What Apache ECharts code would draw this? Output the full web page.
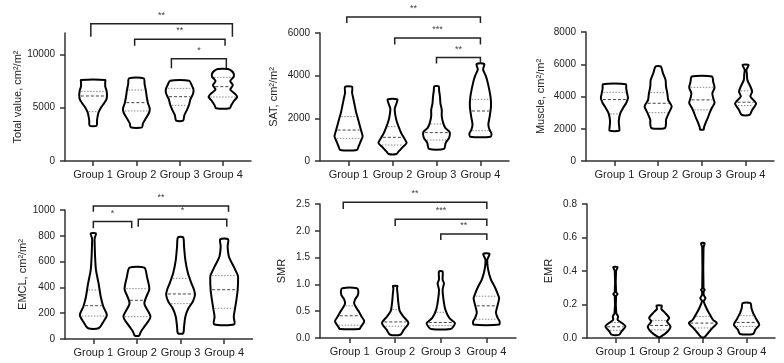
<!DOCTYPE html>
<html><head><meta charset="utf-8">
<script src="https://cdn.jsdelivr.net/npm/echarts@6/dist/echarts.min.js"></script>
<style>html,body{margin:0;padding:0;background:#fff}#c{width:784px;height:363px}</style>
</head><body><div id="c"></div>
<script>
// ---------- data ----------
const groups = ['Group 1', 'Group 2', 'Group 3', 'Group 4'];
const groupPos = [1, 2, 3, 4];
const panelNames = ['Total value, cm²/m²', 'SAT, cm²/m²', 'Muscle, cm²/m²', 'EMCL, cm²/m²', 'SMR', 'EMR'];
const yMax = [12000, 6000, 8000, 1000, 2.5, 0.8];
const yTicks = [
  [0, 5000, 10000],
  [0, 2000, 4000, 6000],
  [0, 2000, 4000, 6000, 8000],
  [0, 200, 400, 600, 800, 1000],
  [0, 0.5, 1.0, 1.5, 2.0, 2.5],
  [0, 0.2, 0.4, 0.6, 0.8]
];

// violin outlines: [value, half-width in hundredths of a group step], bottom to top
const totalViolins = [
  [[3300,8],[3800,9],[4300,11],[4600,13],[5000,18],[5400,25],[5800,31],[6200,32],[6600,31],[7000,28],[7400,28],[7600,28]],
  [[3150,13],[3500,15],[4000,22],[4500,29],[4900,31],[5400,27],[6000,24],[6600,22],[7200,19],[7750,17]],
  [[3780,8],[4300,11],[4800,17],[5300,22],[5800,25],[6300,31],[6700,32],[7100,28],[7530,22]],
  [[4950,16],[5200,19],[5600,25],[6000,33],[6300,28],[6700,17],[7100,23],[7500,17],[7900,25],[8200,25],[8450,20],[8625,12]]
];
const satViolins = [
  [[520,19],[700,23],[900,27],[1150,32],[1400,29],[1700,25],[2000,21],[2300,17],[2600,14],[2900,11],[3200,8],[3480,8]],
  [[330,9],[450,14],[650,23],[850,32],[1050,27],[1300,20],[1600,14],[1900,9],[2200,6],[2450,5],[2700,9],[2890,11]],
  [[570,17],[850,21],[1100,29],[1350,30],[1550,20],[1800,15],[2100,12],[2400,12],[2700,9],[3000,8],[3300,6],[3500,5]],
  [[1140,23],[1300,25],[1450,21],[1700,18],[2080,21],[2550,24],[3000,23],[3640,17],[4000,12],[4300,6],[4550,9]]
];
const muscleViolins = [
  [[1880,11],[2100,11],[2400,10],[2700,11],[3000,14],[3300,20],[3600,27],[3900,31],[4200,29],[4500,27],[4760,26]],
  [[2030,15],[2300,18],[2550,18],[2960,24],[3375,31],[3600,27],[3790,23],[4200,21],[4620,18],[5030,17],[5445,11],[5860,6]],
  [[1950,4],[2100,5],[2400,9],[2700,14],[3000,18],[3300,23],[3600,29],[3900,26],[4200,24],[4550,29],[4900,26],[5240,23]],
  [[2860,9],[3170,15],[3580,24],[4000,11],[4300,15],[4620,11],[5030,4],[5400,3],[5650,2],[5960,7]]
];
const emclViolins = [
  [[83,12],[134,23],[186,31],[250,23],[328,17],[431,12],[535,6],[638,4],[740,3],[780,3],[819,6]],
  [[26,5],[57,9],[96,17],[173,31],[276,17],[380,28],[406,28],[483,23],[553,17]],
  [[44,6],[96,8],[173,11],[238,18],[289,28],[341,33],[380,31],[431,25],[509,17],[612,11],[716,8],[788,6]],
  [[114,23],[173,22],[238,25],[302,28],[380,31],[473,32],[496,31],[561,22],[638,11],[716,8],[773,9]]
];
const smrViolins = [
  [[0.17,22],[0.20,24],[0.26,29],[0.32,32],[0.40,26],[0.48,21],[0.56,15],[0.64,10],[0.72,12],[0.80,18],[0.88,19],[0.93,16]],
  [[0.06,11],[0.155,19],[0.28,29],[0.40,18],[0.50,10],[0.65,7],[0.84,5],[0.93,4],[0.97,5]],
  [[0.17,22],[0.22,28],[0.28,31],[0.37,19],[0.53,10],[0.71,6],[0.90,4],[1.02,7],[1.09,4],[1.24,4]],
  [[0.25,28],[0.31,29],[0.37,25],[0.47,21],[0.59,24],[0.74,28],[0.84,24],[0.96,18],[1.09,10],[1.27,4],[1.46,2],[1.57,7]]
];
const emrViolins = [
  [[0.02,9],[0.04,14],[0.069,23],[0.089,15],[0.109,5],[0.129,6],[0.149,2],[0.25,1.5],[0.262,5],[0.275,1.5],[0.40,1.5],[0.423,5]],
  [[0.006,3],[0.04,20],[0.069,26],[0.099,18],[0.119,23],[0.149,14],[0.173,5],[0.193,6]],
  [[0.006,4],[0.03,12],[0.06,22],[0.089,32],[0.109,23],[0.149,14],[0.179,8],[0.22,2],[0.238,6],[0.256,2],[0.278,2],[0.288,4],[0.298,1.5],[0.54,1.5],[0.566,4]],
  [[0.024,15],[0.05,20],[0.079,29],[0.109,23],[0.149,15],[0.179,11],[0.208,9]]
];

// quartiles: [Q1, median, Q3]
const totalQuart  = [[4625,6094,6530],[4690,5470,6656],[5220,6030,6810],[6000,6970,7840]];
const satQuart    = [[1060,1450,2078],[750,1110,1610],[985,1330,1734],[1420,2344,2890]];
const muscleQuart = [[2920,3810,4260],[3000,3580,4240],[3170,3790,4570],[3440,3645,4350]];
const emclQuart   = [[178,258,380],[173,300,390],[274,349,470],[238,382,491]];
const smrQuart    = [[0.24,0.415,0.60],[0.22,0.30,0.53],[0.23,0.29,0.48],[0.35,0.60,0.78]];
const emrQuart    = [[0.046,0.067,0.093],[0.048,0.075,0.105],[0.06,0.089,0.129],[0.069,0.093,0.133]];

// significance brackets: [from x, to x, bar value, leg end value]
const totalBrackets = [[0.947,4.22,12872,11653],[1.96,4.05,11409,10809],[2.81,4.08,9591,8691]];
const totalStars = ['**','**','*'];
const satBrackets = [[0.96,4.0,6749,6468],[2.05,4.0,5767,5458],[3.0,4.0,4850,4569]];
const satStars = ['**','***','**'];
const emclBrackets = [[1.0,4.1,1031,987],[1.0,1.88,910,858],[2.03,4.06,928,871]];
const emclStars = ['**','*','*'];
const smrBrackets = [[0.86,4.01,2.532,2.407],[2.0,4.01,2.215,2.09],[3.0,4.01,1.94,1.83]];
const smrStars = ['**','***','**'];

// ---------- chart ----------
const violins = [totalViolins, satViolins, muscleViolins, emclViolins, smrViolins, emrViolins];
const quarts = [totalQuart, satQuart, muscleQuart, emclQuart, smrQuart, emrQuart];
const brackets = [[0,totalBrackets,totalStars],[1,satBrackets,satStars],[3,emclBrackets,emclStars],[4,smrBrackets,smrStars]];

const grids = [
  {left:65, top:33, width:186, height:128},
  {left:320, top:33, width:189, height:128},
  {left:586, top:32, width:188, height:129},
  {left:65, top:210, width:187.5, height:129},
  {left:320, top:204, width:196, height:134},
  {left:587, top:204, width:188, height:134}
];
const nameGaps = [39, 41, 40, 37, 33, 33];
const FONT = 'Liberation Sans, Arial, Helvetica, sans-serif';
const AX = '#333';

function widthAt(prof, v) {
  if (v <= prof[0][0]) return prof[0][1];
  for (let i = 1; i < prof.length; i++) {
    if (v <= prof[i][0]) {
      const t = (v - prof[i-1][0]) / (prof[i][0] - prof[i-1][0]);
      return prof[i-1][1] + t * (prof[i][1] - prof[i-1][1]);
    }
  }
  return prof[prof.length-1][1];
}

function violinRender(p) {
  return function (params, api) {
    const g = params.dataIndex;
    const prof = violins[p][g];
    const x = groupPos[g];
    const right = prof.map(d => api.coord([x + d[1] / 100, d[0]]));
    const left = prof.slice().reverse().map(d => api.coord([x - d[1] / 100, d[0]]));
    const children = [];
    quarts[p][g].forEach((q, i) => {
      const w = widthAt(prof, q) / 100;
      const a = api.coord([x - w, q]), b = api.coord([x + w, q]);
      children.push({type:'line', shape:{x1:a[0]+1.5, y1:a[1], x2:b[0]-1.5, y2:b[1]},
        style:{stroke: i === 1 ? '#444' : '#888', lineWidth: 1, lineDash: i === 1 ? [3, 2] : [1.5, 1.5]}});
    });
    children.push({type:'polygon', shape:{points: right.concat(left), smooth: 0.25},
      style:{fill:'none', stroke:'#000', lineWidth:2, lineJoin:'round'}});
    return {type:'group', children};
  };
}

function bracketRender(list, stars) {
  return function (params, api) {
    const b = list[params.dataIndex];
    const p1 = api.coord([b[0], b[3]]), p2 = api.coord([b[0], b[2]]);
    const p3 = api.coord([b[1], b[2]]), p4 = api.coord([b[1], b[3]]);
    return {type:'group', children:[
      {type:'polyline', shape:{points:[p1,p2,p3,p4]}, style:{stroke:'#222', lineWidth:1.5, fill:'none'}},
      {type:'text', x:(p2[0]+p3[0])/2, y:p2[1]-4, style:{text: stars[params.dataIndex], fontSize:9,
        fontFamily:FONT, fill:'#444', align:'center', verticalAlign:'bottom'}}
    ]};
  };
}

const option = {
  animation: false,
  backgroundColor: '#fff',
  grid: grids,
  xAxis: grids.map((g, i) => ({
    type:'value', gridIndex:i, min:0.35, max:4.65,
    axisLine:{lineStyle:{color:AX, width:1.5}},
    axisTick:{customValues:groupPos, length:5, lineStyle:{color:AX, width:1.5}},
    axisLabel:{customValues:groupPos, formatter:v => groups[Math.round(v)-1], fontSize:11,
      color:'#222', fontFamily:FONT, margin:8},
    splitLine:{show:false}
  })),
  yAxis: grids.map((g, i) => ({
    type:'value', gridIndex:i, min:0, max:yMax[i],
    name: panelNames[i], nameLocation:'middle', nameGap:nameGaps[i],
    nameTextStyle:{fontSize:11, color:'#222', fontFamily:FONT},
    axisLine:{show:true, lineStyle:{color:AX, width:1.5}},
    axisTick:{show:true, customValues:yTicks[i], length:5, lineStyle:{color:AX, width:1.5}},
    axisLabel:{customValues:yTicks[i], fontSize:10, color:'#222', fontFamily:FONT, margin:10,
      formatter: v => (i >= 4 ? v.toFixed(1) : String(v))},
    splitLine:{show:false}
  })),
  series: []
};

violins.forEach((vs, p) => {
  option.series.push({
    type:'custom', xAxisIndex:p, yAxisIndex:p, clip:false,
    data: vs.map((prof, g) => [groupPos[g], quarts[p][g][1]]),
    encode:{x:0, y:1},
    renderItem: violinRender(p)
  });
});
brackets.forEach(([p, list, stars]) => {
  option.series.push({
    type:'custom', xAxisIndex:p, yAxisIndex:p, clip:false,
    data: list.map(b => [b[0], b[2], b[1], b[3]]),
    encode:{x:0, y:1},
    renderItem: bracketRender(list, stars)
  });
});

const chart = echarts.init(document.getElementById('c'), null, {renderer:'canvas'});
chart.setOption(option);
</script>
</body></html>
